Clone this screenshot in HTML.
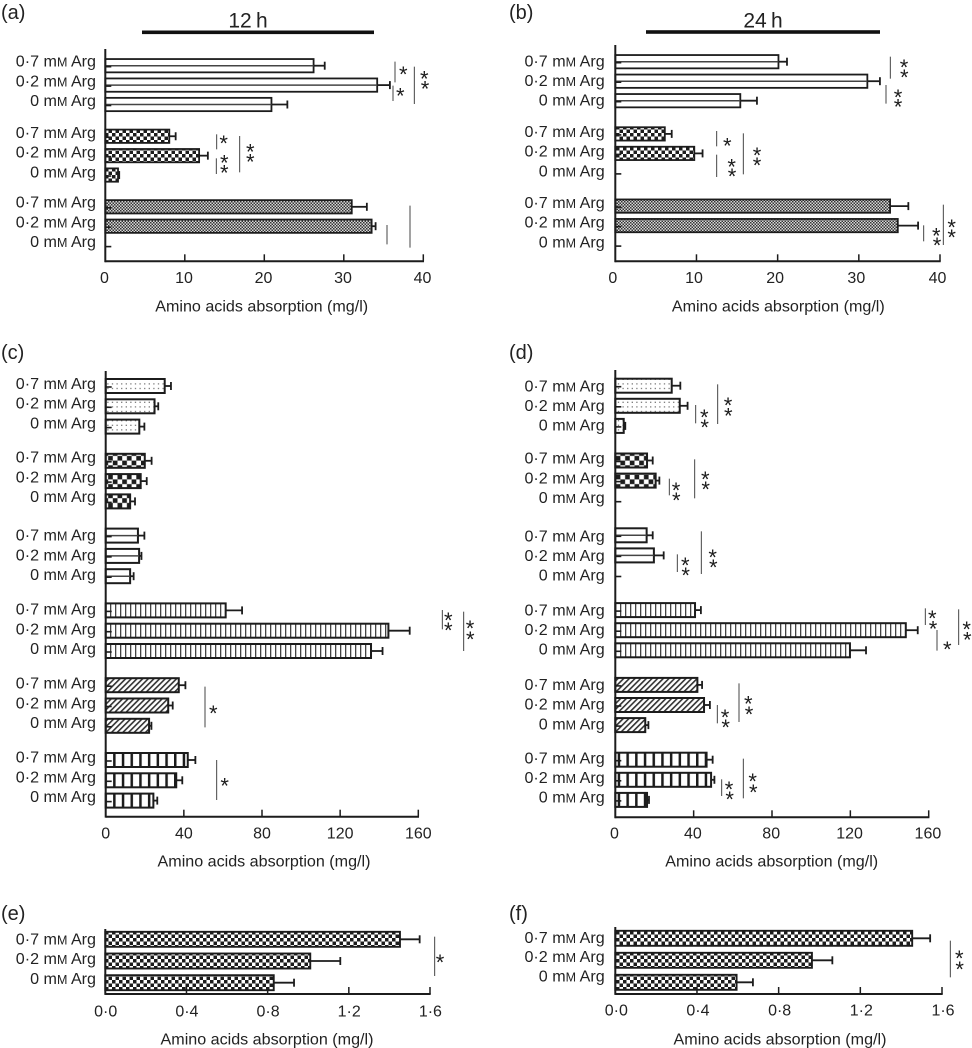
<!DOCTYPE html>
<html lang="en">
<head>
<meta charset="utf-8">
<title>Amino acids absorption at 12 h and 24 h</title>
<style>
html,body{margin:0;padding:0;background:#fff;width:972px;height:1048px;overflow:hidden}
svg{display:block}
text{font-family:"Liberation Sans",Arial,sans-serif;fill:#222}
.tick{font-size:16px}
.ylab{font-size:16.1px}
.title{font-size:16.1px}
.head{font-size:21px}
.plabel{font-size:20px}
.star{font-family:"Liberation Sans",sans-serif;font-size:22px;fill:#1c1c1c}
</style>
</head>
<body>
<svg id="chart" xmlns="http://www.w3.org/2000/svg" width="972" height="1048" viewBox="0 0 972 1048">
  <defs>
    <pattern id="p-check" patternUnits="userSpaceOnUse" width="7" height="7"><rect width="7" height="7" fill="#fff"/><rect width="3.5" height="3.5" fill="#1c1c1c"/><rect x="3.5" y="3.5" width="3.5" height="3.5" fill="#1c1c1c"/></pattern>
    <pattern id="p-fine" patternUnits="userSpaceOnUse" width="3" height="3"><rect width="3" height="3" fill="#d8d8d8"/><rect width="1.5" height="1.5" fill="#333"/><rect x="1.5" y="1.5" width="1.5" height="1.5" fill="#333"/></pattern>
    <pattern id="p-dots" patternUnits="userSpaceOnUse" width="4.6" height="4.6"><rect width="4.6" height="4.6" fill="#fff"/><rect x="1.5" y="1.5" width="1.2" height="1.2" fill="#666"/></pattern>
    <pattern id="p-bigcheck" patternUnits="userSpaceOnUse" width="9.4" height="9.4"><rect width="9.4" height="9.4" fill="#fff"/><rect width="4.7" height="4.7" fill="#1c1c1c"/><rect x="4.7" y="4.7" width="4.7" height="4.7" fill="#1c1c1c"/></pattern>
    <pattern id="p-vline" patternUnits="userSpaceOnUse" width="5" height="5"><rect width="5" height="5" fill="#fff"/><rect width="1.3" height="5" fill="#444"/></pattern>
    <pattern id="p-diag" patternUnits="userSpaceOnUse" width="4" height="4" patternTransform="rotate(45)"><rect width="4" height="4" fill="#fff"/><rect width="1.6" height="4" fill="#333"/></pattern>
    <pattern id="p-vbold" patternUnits="userSpaceOnUse" width="8.7" height="8.7"><rect width="8.7" height="8.7" fill="#fff"/><rect width="2.5" height="8.7" fill="#1c1c1c"/></pattern>
  </defs>

  <text class="plabel" x="1" y="19">(a)</text>
  <text class="plabel" x="509" y="19">(b)</text>
  <text class="plabel" x="1" y="359">(c)</text>
  <text class="plabel" x="509" y="359">(d)</text>
  <text class="plabel" x="1" y="920">(e)</text>
  <text class="plabel" x="509" y="920">(f)</text>

  <text class="head" x="248" y="27.5" text-anchor="middle">12&#8201;h</text>
  <rect x="142" y="30.5" width="232" height="3.6" fill="#111"/>
  <text class="head" x="763" y="27.5" text-anchor="middle">24&#8201;h</text>
  <rect x="646" y="30.2" width="234" height="3.6" fill="#111"/>
</svg>

<script>
// ---- Chart data (values in mg/l) ----
const doseLabels = ['0·7', '0·2', '0'];

const aTickValues = [0, 10, 20, 30, 40];
const aTickLabels = ['0', '10', '20', '30', '40'];
const aMeans = [26.2, 34.2, 20.9, 8.05, 11.8, 1.6, 31.0, 33.5, 0];
const aErrors = [1.4, 1.6, 2.0, 0.8, 1.1, 0.15, 1.9, 0.5, 0];

const bTickValues = [0, 10, 20, 30, 40];
const bTickLabels = ['0', '10', '20', '30', '40'];
const bMeans = [20.1, 31.05, 15.4, 6.1, 9.73, 0, 33.85, 34.8, 0];
const bErrors = [1.05, 1.55, 2.05, 0.85, 1.02, 0, 2.25, 2.5, 0];

const cTickValues = [0, 40, 80, 120, 160];
const cTickLabels = ['0', '40', '80', '120', '160'];
const cMeans = [30.2, 25, 17.2, 20, 17.9, 12.5, 16.5, 17.1, 12.5, 61.4, 144.7, 135.8, 37.4, 32, 22.2, 42, 36.1, 24.4];
const cErrors = [3.2, 1.9, 2.6, 3.5, 3.1, 2.5, 3.3, 1.2, 1.8, 8.4, 10.9, 5.9, 3.4, 2.3, 1.2, 3.9, 3.1, 2];

const dTickValues = [0, 40, 80, 120, 160];
const dTickLabels = ['0', '40', '80', '120', '160'];
const dMeans = [28.8, 32.9, 4.3, 16.2, 20.6, 0, 16, 19.7, 0, 40.7, 148.3, 119.8, 41.9, 45.3, 15.3, 46.6, 48.9, 16.2];
const dErrors = [4.4, 4, 0.8, 2.9, 1.9, 0, 3.1, 5, 0, 3, 6.1, 8.2, 2.4, 3, 1.6, 3.1, 1.7, 1];

const eTickValues = [0, 0.4, 0.8, 1.2, 1.6];
const eTickLabels = ['0·0', '0·4', '0·8', '1·2', '1·6'];
const eMeans = [1.452, 1.01, 0.83];
const eErrors = [0.097, 0.148, 0.1];

const fTickValues = [0, 0.4, 0.8, 1.2, 1.6];
const fTickLabels = ['0·0', '0·4', '0·8', '1·2', '1·6'];
const fMeans = [1.454, 0.963, 0.594];
const fErrors = [0.088, 0.1, 0.08];

// ---- Layout (separate from data) ----
const NS = 'http://www.w3.org/2000/svg';
const root = document.getElementById('chart');
const AX = '#1c1c1c';

const panels = [
  {id:'a', means:aMeans, errors:aErrors, tickValues:aTickValues, tickLabels:aTickLabels, domainMax:40,
   x0:105.3, x1:423.3, top:49, bottom:261.3, first:65.7, barStep:19.4, groupStep:70.55, barH:13.3, border:1.8, stub:true,
   fills:['hline','check','fine'], labelStarts:[61,132.3,202], labelStep:19.8, labelX:96,
   tickShift:-0.8, tickY:277.3, titleX:261.7, titleY:305.7,
   sig:[[1185,185,247,[[1210,207]]],[1179,257,303,[[1201,272]]],[1243,200,312,[[1273,221],[1275,251]]],
        [650,403,448,[[671,415]]],[649,475,522,[[673,473],[673,503]]],[719,408,517,[[751,440],[751,470]]],
        [1161,675,733,[]],[1230,617,743,[]]], sigDx:0, sigDy:0},
  {id:'b', means:bMeans, errors:bErrors, tickValues:bTickValues, tickLabels:bTickLabels, domainMax:40,
   x0:615.3, x1:940, top:45, bottom:261.3, first:61.7, barStep:19.5, groupStep:72.2, barH:13.3, border:1.8, stub:true,
   fills:['hline','check','fine'], labelStarts:[60.7,131.3,202.3], labelStep:19.7, labelX:604.7,
   tickShift:-2.5, tickY:277.3, titleX:778.3, titleY:305.7,
   sig:[[1171,170,236,[[1212,186],[1213,217]]],[1158,255,311,[[1194,276],[1194,305]]],
        [650,393,439,[[682,422]]],[650,464,531,[[695,485],[696,513]]],[730,400,523,[[771,450],[771,481]]],
        [1271,676,724,[[1309,692],[1311,721]]],[1330,614,735,[[1355,666],[1355,697]]]], sigDx:500, sigDy:0},
  {id:'c', means:cMeans, errors:cErrors, tickValues:cTickValues, tickLabels:cTickLabels, domainMax:160,
   x0:105.7, x1:418.3, top:371, bottom:816.7, first:386, barStep:20.3, groupStep:74.8, barH:14, border:2, stub:true,
   fills:['dots','bigcheck','hline','vline','diag','vbold'], labelStarts:[383.3,457,535,609,683,757], labelStep:19.7, labelX:96,
   tickShift:0, tickY:832.7, titleX:264, titleY:860.7,
   sig:[[1327,30,88,[[1345,45],[1345,76]]],[1391,35,153,[[1410,70],[1411,102]]],
        [615,260,382,[[640,325]]],[650,480,600,[[674,542]]]], sigDx:0, sigDy:600},
  {id:'d', means:dMeans, errors:dErrors, tickValues:dTickValues, tickLabels:dTickLabels, domainMax:160,
   x0:615.3, x1:928.7, top:370, bottom:817.3, first:385.7, barStep:20.1, groupStep:74.8, barH:14, border:2, stub:true,
   fills:['dots','bigcheck','hline','vline','diag','vbold'], labelStarts:[385.7,458,535.7,609.7,684.3,757.7], labelStep:19.7, labelX:604.7,
   tickShift:-0.8, tickY:832.7, titleX:771.7, titleY:860.7,
   sig:[[1276,25,75,[[1297,40],[1299,71]]],[1311,90,152,[[1342,132]]],[1376,28,135,[[1400,72],[1402,104]]],
        [717,250,366,[[745,296],[747,327]]],[652,315,370,[[675,336],[677,367]]],
        [730,476,595,[[758,528],[760,561]]],[665,538,588,[[687,552],[689,583]]],
        [587,-585,-530,[[613,-563],[614,-533]]],[653,-647,-528,[[684,-599],[685,-568]]],
        [508,-364,-314,[[528,-344],[529,-315]]],[584,-422,-305,[[616,-378],[617,-347]]],
        [532,-137,-84,[[556,-119],[557,-89]]],[604,-206,-78,[[638,-144],[640,-113]]]], sigDx:500, sigDy:600},
  {id:'e', means:eMeans, errors:eErrors, tickValues:eTickValues, tickLabels:eTickLabels, domainMax:1.6,
   x0:105.3, x1:430, top:929, bottom:994, first:939.3, barStep:21.7, groupStep:0, barH:15, border:1.9, stub:false,
   fills:['check'], labelStarts:[938.7], labelStep:19.8, labelX:96,
   tickShift:0.4, tickY:1010.7, titleX:267, titleY:1039,
   sig:[[1304,140,258,[[1320,201]]]], sigDx:0, sigDy:890},
  {id:'f', means:fMeans, errors:fErrors, tickValues:fTickValues, tickLabels:fTickLabels, domainMax:1.6,
   x0:615.3, x1:942, top:927, bottom:994, first:938.3, barStep:22, groupStep:0, barH:15, border:1.9, stub:false,
   fills:['check'], labelStarts:[937.3], labelStep:19.2, labelX:604.7,
   tickShift:1, tickY:1010, titleX:780, titleY:1039,
   sig:[[1351,152,262,[[1378,190],[1379,222]]]], sigDx:500, sigDy:890}
];

function mk(tag, parent, props) {
  const el = document.createElementNS(NS, tag);
  for (const k in props) el.setAttribute(k, props[k]);
  parent.appendChild(el);
  return el;
}

function drawPanel(p) {
  const xScale = v => p.x0 + (v / p.domainMax) * (p.x1 - p.x0);
  const yScale = i => {
    const group = Math.floor(i / 3);
    return p.first + group * p.groupStep + (i % 3) * p.barStep;
  };

  const g = mk('g', root, {});
  
  

  // bars, error bars, stubs
  p.means.forEach((mean, i) => {
    const cy = yScale(i);
    const fill = p.fills[Math.floor(i / 3)];
    if (mean > 0) {
      const bar = mk('rect', g, {
        x: p.x0, y: cy - p.barH / 2, width: xScale(mean) - p.x0, height: p.barH,
        fill: fill === 'hline' ? '#fff' : 'url(#p-' + fill + ')',
        stroke: AX, 'stroke-width': p.border
      });
      
      
      if (fill === 'hline') {
        const mid = mk('line', g, {x1: p.x0, x2: xScale(mean), y1: cy, y2: cy, stroke: '#444', 'stroke-width': 1.5});
        
        
      }
    }
    const err = p.errors[i];
    if (err > 0) {
      const whisker = mk('line', g, {x1: xScale(mean), x2: xScale(mean + err), y1: cy, y2: cy, stroke: AX, 'stroke-width': 1.8});
      
      
      const cap = mk('line', g, {x1: xScale(mean + err), x2: xScale(mean + err), y1: cy - 4, y2: cy + 4, stroke: AX, 'stroke-width': 1.8});
      
      
    }
    if (p.stub) {
      const stub = mk('line', g, {x1: p.x0, x2: p.x0 + 6, y1: cy + 1, y2: cy + 1, stroke: AX, 'stroke-width': 1.6});
      
      
    }
  });

  // axes
  const yAxis = mk('line', g, {x1: p.x0, x2: p.x0, y1: p.top, y2: p.bottom + 0.9, stroke: AX, 'stroke-width': 2});
  
  
  const xAxis = mk('line', g, {x1: p.x0, x2: p.x1 + 0.7, y1: p.bottom, y2: p.bottom, stroke: AX, 'stroke-width': 2});
  
  

  p.tickValues.forEach((v, i) => {
    if (v > 0) {
      const tick = mk('line', g, {x1: xScale(v), x2: xScale(v), y1: p.bottom, y2: p.bottom - 7, stroke: AX, 'stroke-width': 1.5});
      
      
    }
    const lab = mk('text', g, {class: 'tick', x: xScale(v) + p.tickShift, y: p.tickY, dy: '0.35em', 'text-anchor': 'middle'});
    lab.textContent = p.tickLabels[i];
    
    
  });

  // y labels
  p.means.forEach((mean, i) => {
    const group = Math.floor(i / 3);
    const lab = mk('text', g, {class: 'ylab', x: p.labelX, y: p.labelStarts[group] + (i % 3) * p.labelStep, dy: '0.35em', 'text-anchor': 'end'});
    
    
    lab.appendChild(document.createTextNode(doseLabels[i % 3] + ' m'));
    const sc = mk('tspan', lab, {'font-size': '12.5'});
    sc.textContent = 'M';
    lab.appendChild(document.createTextNode(' Arg'));
  });

  // axis title
  const title = mk('text', g, {class: 'title', x: p.titleX, y: p.titleY, dy: '0.35em', 'text-anchor': 'middle'});
  title.textContent = 'Amino acids absorption (mg/l)';
  
  

  // significance brackets, measured at 3x scale relative to the panel origin
  p.sig.forEach(s => {
    const lx = p.sigDx + s[0] / 3;
    const line = mk('line', g, {x1: lx, x2: lx, y1: p.sigDy + s[1] / 3, y2: p.sigDy + s[2] / 3, stroke: '#444', 'stroke-width': 1});
    
    
    s[3].forEach(st => {
      const star = mk('text', g, {class: 'star', x: p.sigDx + st[0] / 3, y: p.sigDy + st[1] / 3, dy: '0.58em', 'text-anchor': 'middle'});
      star.textContent = '*';
      
      
    });
  });
}

panels.forEach(drawPanel);
</script>
</body>
</html>
